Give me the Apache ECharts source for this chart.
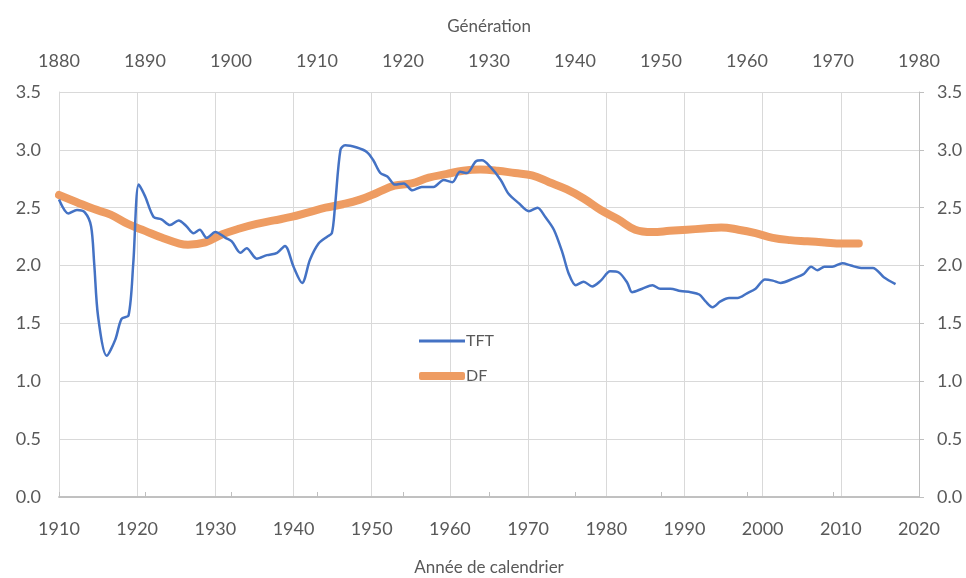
<!DOCTYPE html>
<html>
<head>
<meta charset="utf-8">
<script src="https://cdn.jsdelivr.net/npm/echarts@6/dist/echarts.min.js"></script>
<style>
	html, body { margin: 0; padding: 0; background: #fff; }
	#chart { width: 966px; height: 578px; }
</style>
</head>
<body>
<div id="chart"></div>
<script>
	// TFT : année de calendrier (axe du bas)
	var tftYears = [1910, 1911.2, 1912.3, 1913.3, 1914.1, 1914.5, 1915, 1916.1, 1917.2, 1918, 1918.9, 1919.5, 1920.2, 1921, 1922.1, 1923.1, 1924.2, 1925.3, 1926.3, 1927.2, 1928, 1928.9, 1930, 1931.3, 1932.1, 1933.2, 1934, 1935.3, 1936.6, 1937.9, 1938.9, 1940, 1941.1, 1942.1, 1943.2, 1944.3, 1944.9, 1945.3, 1946, 1946.6, 1948.1, 1949.4, 1950.2, 1951.1, 1952, 1953, 1954.1, 1955.2, 1956.4, 1957.9, 1959.2, 1960.3, 1961.3, 1962.2, 1963.3, 1964.1, 1965.2, 1966.5, 1967.5, 1968.8, 1970.1, 1971.2, 1972.2, 1973.3, 1974.4, 1975.2, 1976.1, 1977.1, 1978.2, 1979.3, 1980.5, 1981.6, 1982.7, 1983.3, 1984.6, 1985.9, 1986.9, 1988.2, 1989.5, 1990.8, 1991.9, 1992.7, 1993.6, 1994.6, 1995.7, 1996.8, 1998, 1999.1, 2000.3, 2001.3, 2002.3, 2004, 2005.3, 2006.2, 2007, 2007.9, 2008.9, 2010.2, 2011.3, 2012.6, 2014.1, 2015.5, 2017];
	var tftValues = [2.57, 2.45, 2.48, 2.46, 2.34, 2.02, 1.56, 1.22, 1.36, 1.54, 1.57, 2.02, 2.70, 2.60, 2.42, 2.40, 2.35, 2.39, 2.34, 2.28, 2.31, 2.24, 2.29, 2.24, 2.21, 2.11, 2.15, 2.06, 2.09, 2.11, 2.17, 1.99, 1.85, 2.05, 2.19, 2.25, 2.28, 2.51, 3.00, 3.04, 3.02, 2.98, 2.91, 2.80, 2.77, 2.70, 2.71, 2.65, 2.68, 2.68, 2.74, 2.72, 2.81, 2.80, 2.90, 2.91, 2.85, 2.74, 2.62, 2.54, 2.47, 2.50, 2.42, 2.31, 2.11, 1.93, 1.83, 1.86, 1.82, 1.87, 1.95, 1.94, 1.85, 1.77, 1.80, 1.83, 1.80, 1.80, 1.78, 1.77, 1.75, 1.69, 1.64, 1.69, 1.72, 1.72, 1.76, 1.80, 1.88, 1.87, 1.85, 1.89, 1.93, 1.99, 1.96, 1.99, 1.99, 2.02, 2.00, 1.98, 1.98, 1.90, 1.84];

	// DF : génération (axe du haut)
	var dfGen = [1880, 1882, 1884, 1886, 1888, 1890, 1892, 1894, 1895, 1897, 1899, 1901, 1903, 1905, 1907, 1909, 1911, 1913, 1915, 1917, 1919, 1921, 1923, 1925, 1927, 1929, 1931, 1933, 1935, 1937, 1939, 1941, 1943, 1945, 1947, 1949, 1951, 1953, 1955, 1957, 1959, 1961, 1963, 1965, 1967, 1969, 1971, 1973];
	var dfValues = [2.61, 2.55, 2.49, 2.44, 2.36, 2.30, 2.24, 2.19, 2.18, 2.20, 2.27, 2.32, 2.36, 2.39, 2.42, 2.46, 2.50, 2.53, 2.57, 2.63, 2.69, 2.71, 2.76, 2.79, 2.82, 2.83, 2.82, 2.80, 2.78, 2.72, 2.66, 2.58, 2.48, 2.40, 2.31, 2.29, 2.30, 2.31, 2.32, 2.33, 2.31, 2.28, 2.24, 2.22, 2.21, 2.20, 2.19, 2.19];

	var font = 'Lato';
	var txt = '#595959';
	var blue = '#4472C4', orange = '#EE9C62';

	function pairs(xs, ys) {
		var out = [];
		for (var i = 0; i < xs.length; i++) {
			out.push([xs[i], ys[i]]);
		}
		return out;
	}
	function yearFmt(v) { return String(v); }

	var myChart = echarts.init(document.getElementById('chart'));

	var yAxisBase = {
		type : 'value',
		min : 0,
		max : 3.5,
		interval : 0.5,
		axisLabel : {
			color : txt,
			fontFamily : font,
			fontSize : 18,
			margin : 18,
			formatter : function(v) { return v.toFixed(1); }
		}
	};
	var legendText = { color : txt, fontFamily : font, fontSize : 16, padding : [0, 0, 0, -4] };

	var option = {
		animation : false,
		textStyle : { fontFamily : font },
		grid : {
			left : 59,
			right : 47,
			top : 92,
			bottom : 81,
			outerBoundsMode : 'none',
			containLabel : false
		},
		// deux légendes : une ligne fine et une ligne épaisse
		legend : [ {
			left : 414,
			top : 328,
			icon : 'rect',
			itemWidth : 46,
			itemHeight : 3,
			textStyle : legendText,
			data : ['TFT']
		}, {
			left : 414,
			top : 363,
			icon : 'roundRect',
			itemWidth : 46,
			itemHeight : 8,
			textStyle : legendText,
			data : ['DF']
		} ],
		xAxis : [ {
			type : 'value',
			position : 'bottom',
			min : 1910,
			max : 2020,
			interval : 10,
			name : 'Année de calendrier',
			nameLocation : 'middle',
			nameGap : 62,
			nameTextStyle : { color : txt, fontFamily : font, fontSize : 17 },
			axisLine : { show : true, lineStyle : { color : '#BFBFBF', width : 1.5 } },
			axisTick : { show : false },
			axisLabel : { color : txt, fontFamily : font, fontSize : 18, margin : 23, formatter : yearFmt },
			splitLine : { show : true, lineStyle : { color : '#D9D9D9', width : 1 } }
		}, {
			type : 'value',
			position : 'top',
			min : 1880,
			max : 1980,
			interval : 10,
			name : 'Génération',
			nameLocation : 'middle',
			nameGap : 57,
			nameTextStyle : { color : txt, fontFamily : font, fontSize : 17 },
			axisLine : { show : true, lineStyle : { color : '#BFBFBF', width : 1.5 } },
			axisTick : { show : true, length : 5, lineStyle : { color : '#BFBFBF' } },
			axisLabel : { color : txt, fontFamily : font, fontSize : 18, margin : 22, formatter : yearFmt },
			splitLine : { show : false }
		} ],
		yAxis : [ echarts.util.merge({
			position : 'left',
			axisLine : { show : true, lineStyle : { color : '#D9D9D9' } },
			axisTick : { show : false },
			splitLine : { show : true, lineStyle : { color : '#D9D9D9', width : 1 } }
		}, yAxisBase, true), echarts.util.merge({
			position : 'right',
			axisLine : { show : true, lineStyle : { color : '#BFBFBF' } },
			axisTick : { show : true, length : 5, lineStyle : { color : '#BFBFBF' } },
			splitLine : { show : false }
		}, yAxisBase, true) ],
		series : [ {
			name : 'DF',
			type : 'line',
			xAxisIndex : 1,
			yAxisIndex : 0,
			data : pairs(dfGen, dfValues),
			smooth : 0.4,
			showSymbol : false,
			symbol : 'none',
			lineStyle : { color : orange, width : 8, cap : 'round' },
			itemStyle : { color : orange },
			z : 2
		}, {
			name : 'TFT',
			type : 'line',
			xAxisIndex : 0,
			yAxisIndex : 0,
			data : pairs(tftYears, tftValues),
			smooth : 0.3,
			showSymbol : false,
			symbol : 'none',
			lineStyle : { color : blue, width : 2.5 },
			itemStyle : { color : blue },
			z : 3
		} ]
	};
	myChart.setOption(option);
</script>
</body>
</html>
